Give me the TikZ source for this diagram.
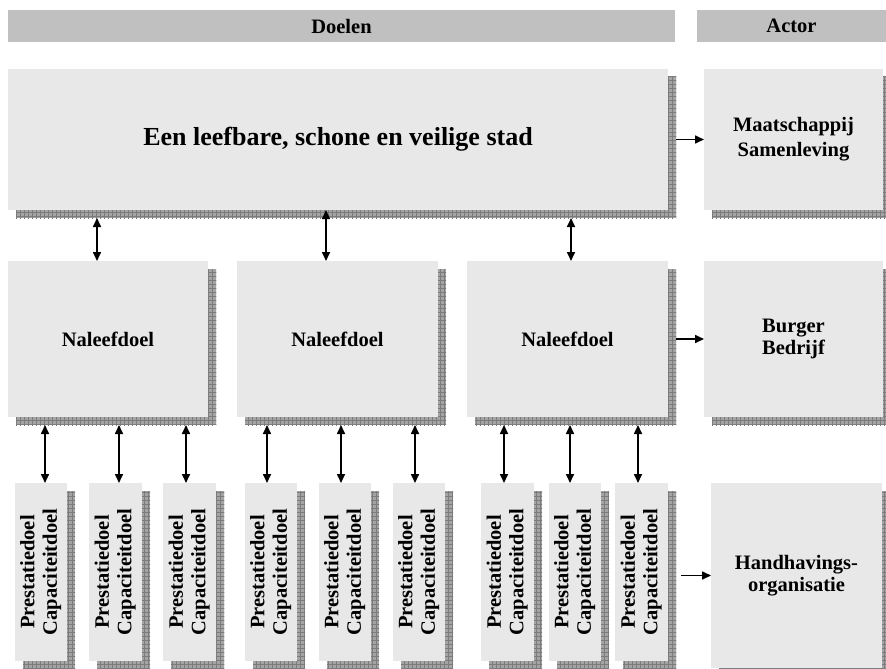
\documentclass[tikz,border=0pt]{standalone}
\usepackage{fontspec}
\setmainfont{Liberation Serif}
\usepackage{graphicx}
\usetikzlibrary{arrows.meta,patterns}
\definecolor{boxfill}{HTML}{E8E8E8}
\definecolor{headfill}{HTML}{C0C0C0}
\definecolor{shadowbase}{HTML}{A4A4A4}
\definecolor{shadowline}{HTML}{7C7C7C}
\pgfdeclarepatternformonly{shadowgrid}{\pgfpoint{-0.5pt}{-0.5pt}}{\pgfpoint{4.5pt}{4.5pt}}{\pgfpoint{4pt}{4pt}}{%
  \pgfsetlinewidth{1pt}%
  \pgfpathmoveto{\pgfpoint{-0.5pt}{0pt}}\pgfpathlineto{\pgfpoint{4.5pt}{0pt}}%
  \pgfpathmoveto{\pgfpoint{0pt}{-0.5pt}}\pgfpathlineto{\pgfpoint{0pt}{4.5pt}}%
  \pgfusepath{stroke}}
\tikzset{
  shadowbox/.style={draw=none, inner sep=0pt, outer sep=0pt,
    preaction={fill=shadowbase}, pattern=shadowgrid, pattern color=shadowline},
  mainbox/.style={fill=boxfill, draw=none, inner sep=0pt, outer sep=0pt,
    align=center, font=\bfseries\fontsize{20.5}{24}\selectfont},
  headbox/.style={fill=headfill, draw=none, inner sep=0pt, outer sep=0pt,
    font=\bfseries\fontsize{20.5}{24}\selectfont},
  arr/.style={line width=1.6pt, -{Triangle[length=9pt,width=8pt]}},
  biarr/.style={line width=1.6pt, {Triangle[length=9pt,width=8pt]}-{Triangle[length=9pt,width=8pt]}},
}
% #1 options, #2 name, #3 x1, #4 y1, #5 x2, #6 y2, #7 text
\newcommand\gbox[7][]{%
  \node[shadowbox, minimum width={(#5-#3)*1pt}, minimum height={(#6-#4)*1pt}]
    (s#2) at ({(#3+#5)/2+8},{(#4+#6)/2+8}) {};
  \node[mainbox, minimum width={(#5-#3)*1pt}, minimum height={(#6-#4)*1pt}, #1]
    (#2) at ({(#3+#5)/2},{(#4+#6)/2}) {#7};}
\newcommand\pdtext{\rotatebox{90}{\fontsize{20.5}{22.5}\selectfont\begin{tabular}{@{}c@{}}Prestatiedoel\\Capaciteitdoel\end{tabular}}}
\begin{document}
\begin{tikzpicture}[x=1pt,y=-1pt]
\clip (0,0) rectangle (886,669);
\fill[white] (0,0) rectangle (886,669);
% headers
\node[headbox, minimum width=667pt, minimum height=32pt] (hdoel) at (341.5,26) {Doelen};
\node[headbox, minimum width=189pt, minimum height=32pt] (hactor) at (791.5,26) {Actor};
% top row
\gbox[font=\bfseries\fontsize{26}{30}\selectfont]{top}{8}{69}{668}{210}{Een leefbare, schone en veilige stad}
\gbox{maat}{704}{69}{883}{210}{Maatschappij\\[1pt]Samenleving}
% middle row
\gbox{n1}{8}{261}{208}{417}{Naleefdoel}
\gbox{n2}{237}{261}{438}{417}{Naleefdoel}
\gbox{n3}{467}{261}{668}{417}{Naleefdoel}
\gbox{burg}{704}{261}{883}{417}{Burger\\[-2pt]Bedrijf}
% bottom row
\gbox{p1}{15}{483}{67}{661}{\pdtext}
\gbox{p2}{89}{483}{142}{661}{\pdtext}
\gbox{p3}{163}{483}{216}{661}{\pdtext}
\gbox{p4}{245}{483}{297}{661}{\pdtext}
\gbox{p5}{319}{483}{371}{661}{\pdtext}
\gbox{p6}{393}{483}{445}{661}{\pdtext}
\gbox{p7}{481}{483}{534}{661}{\pdtext}
\gbox{p8}{549}{483}{601}{661}{\pdtext}
\gbox{p9}{615}{483}{668}{661}{\pdtext}
\gbox{hand}{711}{483}{882}{668}{Handhavings-\\[-2pt]organisatie}
% arrows to actors
\draw[arr] (stop.east |- maat.west) -- (maat.west);
\draw[arr] (sn3.east |- burg.west) -- (burg.west);
\draw[arr] ([xshift=5pt]sp9.east |- hand.west) -- (hand.west);
% top <-> naleefdoel
\draw[biarr] ([xshift=-11pt]n1.north) -- ([xshift=-11pt]n1.north |- stop.south);
\draw[biarr] ([xshift=-11.5pt]n2.north) -- ([xshift=-11.5pt]n2.north |- top.south);
\draw[biarr] ([xshift=3.5pt]n3.north) -- ([xshift=3.5pt]n3.north |- stop.south);
% naleefdoel <-> prestatiedoel
\foreach \p/\n/\dx in {p1/n1/4, p2/n1/3.5, p3/n1/-3.5, p4/n2/-4, p5/n2/-4, p6/n2/-4, p7/n3/-3.5, p8/n3/-5, p9/n3/-3.5}{
  \draw[biarr] ([xshift=\dx pt]\p.north) -- ([xshift=\dx pt]\p.north |- s\n.south);
}
\end{tikzpicture}
\end{document}
